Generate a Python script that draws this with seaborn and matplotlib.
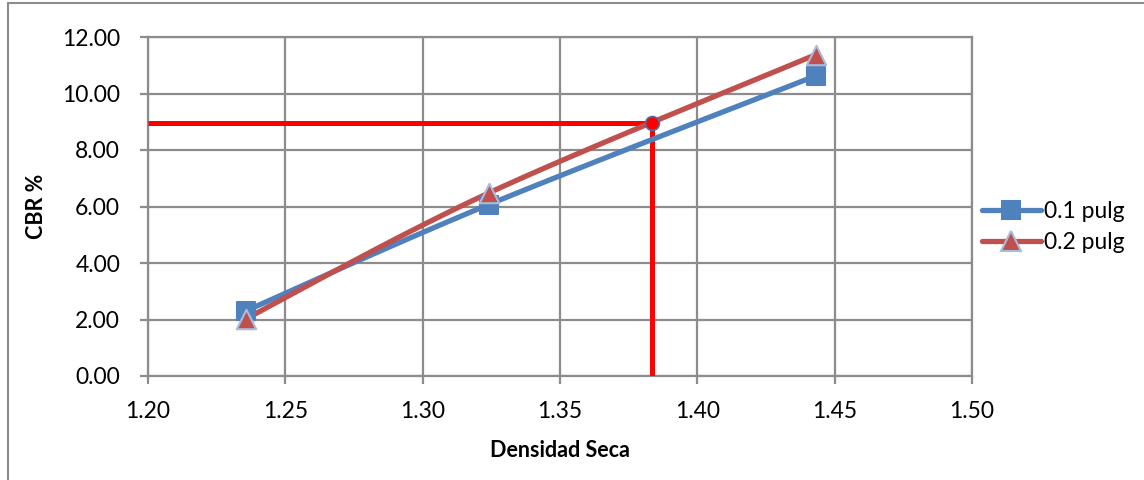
import numpy as np
import matplotlib
matplotlib.use("Agg")
import matplotlib.pyplot as plt
import seaborn as sns
import pandas as pd
from matplotlib.lines import Line2D

# Data
densidad = [1.2355, 1.3241, 1.4432]
cbr_01 = [2.30, 6.07, 10.63]
cbr_02 = [2.02, 6.48, 11.38]
series_names = ["0.1 pulg", "0.2 pulg"]
ref_densidad = 1.3834
ref_cbr = 8.96
x_ticks = [1.20, 1.25, 1.30, 1.35, 1.40, 1.45, 1.50]
y_ticks = [0.0, 2.0, 4.0, 6.0, 8.0, 10.0, 12.0]

sns.set_theme(style="white")
plt.rcParams['font.family'] = ['Lato', 'DejaVu Sans']
plt.rcParams['text.color'] = 'black'
plt.rcParams['axes.labelcolor'] = 'black'
plt.rcParams['xtick.color'] = 'black'
plt.rcParams['ytick.color'] = 'black'

BLUE = "#4F81BD"
RED = "#C0504D"
GRID = "#8C8C8C"

fig = plt.figure(figsize=(11.44, 4.8), dpi=100)
ax = fig.add_axes([148/1144, 1-376/480, (972-148)/1144, (376-37)/480])

def smooth(xs, ys, n=60):
    # Excel-like smoothing (Catmull-Rom Bezier) between the data points
    P = np.column_stack([xs, ys])
    out = []
    m = len(P)
    for i in range(m - 1):
        p0 = P[i-1] if i > 0 else P[i]
        p1 = P[i]
        p2 = P[i+1]
        p3 = P[i+2] if i + 2 < m else P[i+1]
        c1 = p1 + (p2 - p0) / 6
        c2 = p2 - (p3 - p1) / 6
        t = np.linspace(0, 1, n)[:, None]
        seg = ((1-t)**3)*p1 + 3*((1-t)**2)*t*c1 + 3*(1-t)*t**2*c2 + t**3*p2
        out.append(seg if i == 0 else seg[1:])
    s = np.vstack(out)
    return s[:, 0], s[:, 1]

# Reference red lines
ax.plot([1.20, ref_densidad], [ref_cbr, ref_cbr], color="#FF0000", lw=3.6, zorder=3,
        solid_capstyle="butt")
ax.plot([ref_densidad, ref_densidad], [0, ref_cbr], color="#FF0000", lw=3.6, zorder=3,
        solid_capstyle="butt")

for ys, color, marker, ms, mec, name in [
    (cbr_01, BLUE, "s", 13, BLUE, series_names[0]),
    (cbr_02, RED, "^", 14, "#A9BCDC", series_names[1]),
]:
    sx, sy = smooth(densidad, ys)
    ax.plot(sx, sy, color=color, lw=3.8, zorder=4, solid_capstyle="round")
    df = pd.DataFrame({"x": densidad, "y": ys})
    sns.scatterplot(data=df, x="x", y="y", ax=ax, marker=marker, s=ms**2, color=color,
                    edgecolor=mec, linewidth=1.5, zorder=5, legend=False)
    ax.plot([], [], color=color, lw=3.8, marker=marker, ms=ms, mfc=color, mec=mec,
            mew=1.5, label=name, solid_capstyle="round")

ax.plot([ref_densidad], [ref_cbr], marker="o", ms=10, mfc="#FF0000", mec="#4F6FA0",
        mew=1.2, zorder=6, ls="none")

ax.set_xlim(1.20, 1.50)
ax.set_ylim(0, 12)
ax.set_xticks(x_ticks)
ax.set_yticks(y_ticks)
ax.set_xticklabels([f"{v:.2f}" for v in x_ticks])
ax.set_yticklabels([f"{v:.2f}" for v in y_ticks])
ax.grid(True, color=GRID, lw=1.6)
ax.set_axisbelow(True)
for sp in ax.spines.values():
    sp.set_color(GRID)
    sp.set_linewidth(1.6)
ax.tick_params(axis="both", which="both", direction="out", length=6, width=1.6,
               color=GRID, labelsize=16.5, left=True, bottom=True)
ax.tick_params(axis="x", pad=12)
ax.tick_params(axis="y", pad=14)
ax.set_xlabel("Densidad Seca", fontsize=15.5, fontweight="bold")
ax.set_ylabel("CBR %", fontsize=15.5, fontweight="bold")
ax.xaxis.set_label_coords((560-148)/824, -(440-376)/339)
ax.yaxis.set_label_coords(-(148-47)/824, 0.5)

leg = ax.legend(loc="center left", bbox_to_anchor=(0.995, 0.44), frameon=False,
                fontsize=16.5, handlelength=2.6, handletextpad=0.1, labelspacing=0.45,
                borderaxespad=0.2)

fig.add_artist(Line2D([8/1144, 8/1144], [0, 1-3/480], transform=fig.transFigure,
                      color=GRID, lw=1.5))
fig.add_artist(Line2D([8/1144, 1], [1-3/480, 1-3/480], transform=fig.transFigure,
                      color=GRID, lw=1.5))

fig.savefig("out.png", dpi=100)
